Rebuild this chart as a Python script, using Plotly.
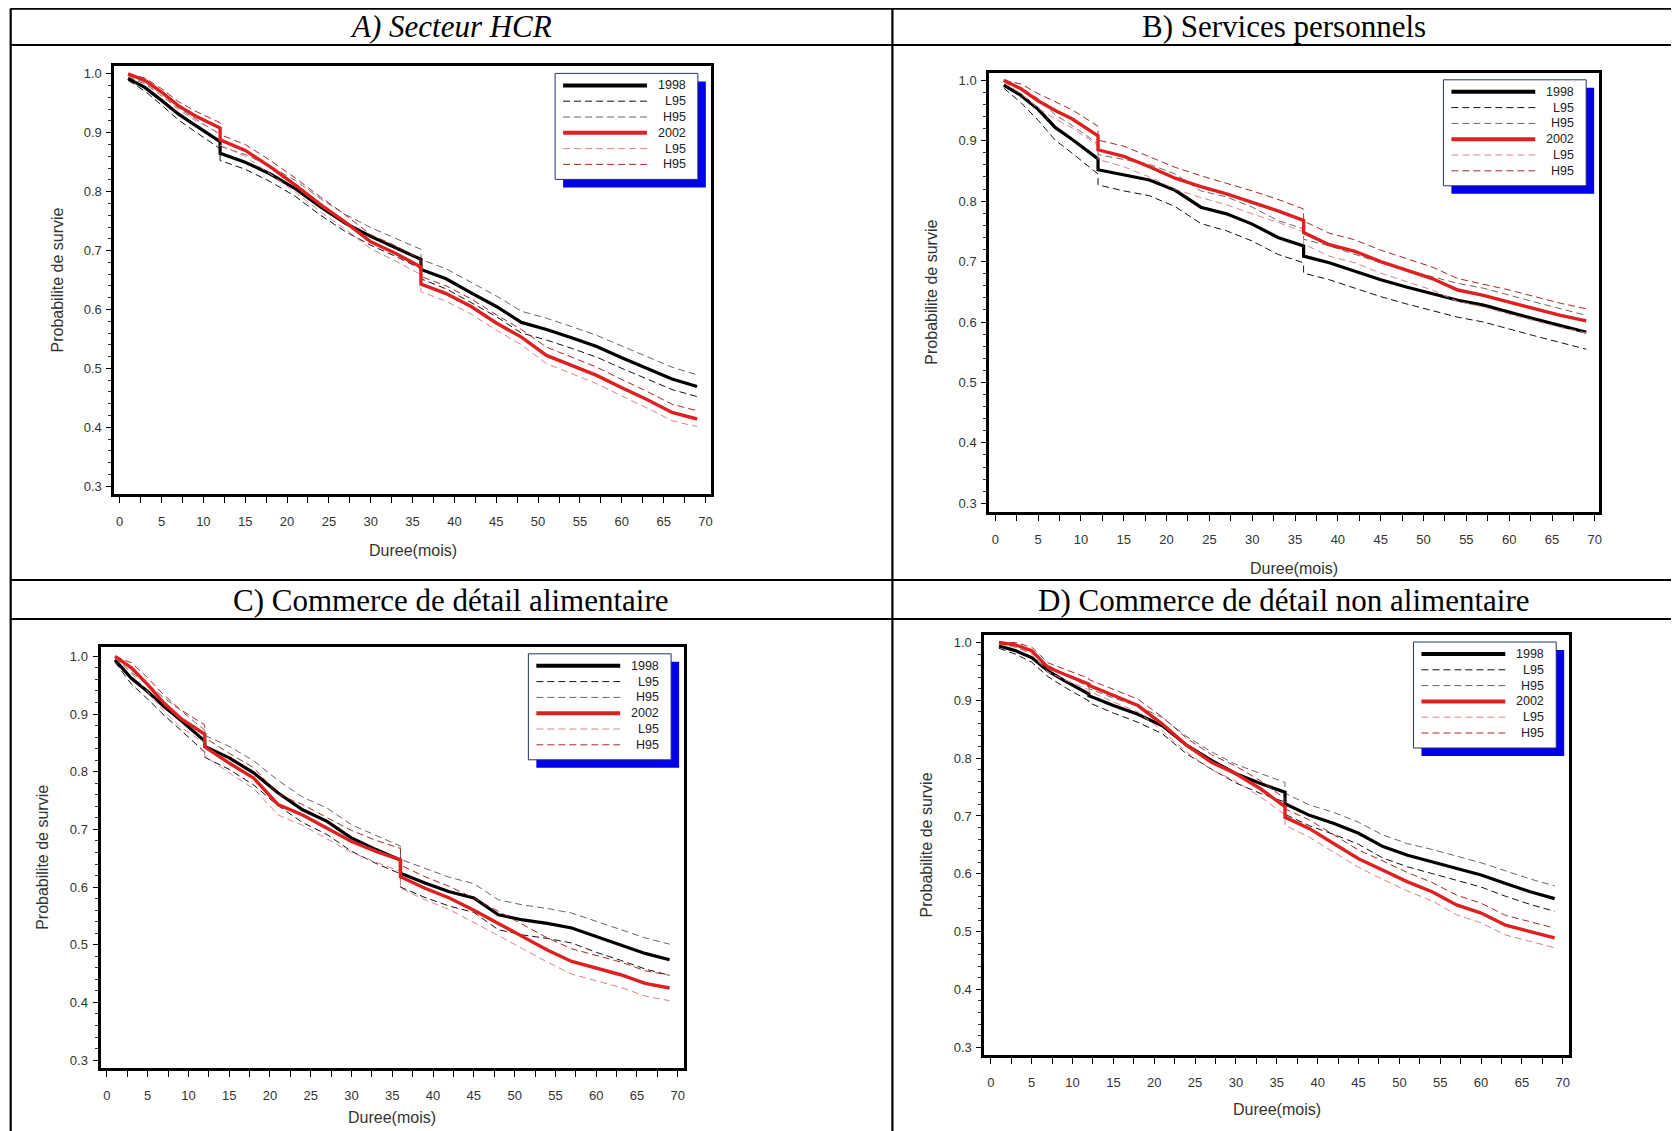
import plotly.graph_objects as go

W, H = 1679, 1131          # page size
OFF = 8                     # default body margin of the html page
FW, FH = W - OFF, H - OFF   # figure size

# ---------------- data ----------------
months = [1, 3, 5, 7, 9, 12, 12, 15, 18, 21, 24, 27, 30, 33, 36, 36, 39, 42, 45, 48, 51, 54, 57, 60, 63, 66, 69]

x_tick_vals = list(range(0, 71, 5))
y_tick_vals = [0.3, 0.4, 0.5, 0.6, 0.7, 0.8, 0.9, 1.0]
y_tick_text = ["0.3", "0.4", "0.5", "0.6", "0.7", "0.8", "0.9", "1.0"]

panel_titles = ["A) Secteur HCR", "B) Services personnels",
                "C) Commerce de détail alimentaire", "D) Commerce de détail non alimentaire"]
legend_labels = ["1998", "L95", "H95", "2002", "L95", "H95"]
x_title = "Duree(mois)"
y_title = "Probabilite de survie"

# Panel A
a_1998 = [0.992, 0.977, 0.955, 0.932, 0.913, 0.885, 0.865, 0.850, 0.830, 0.805, 0.774, 0.746, 0.724, 0.705,
          0.685, 0.668, 0.652, 0.628, 0.605, 0.578, 0.566, 0.552, 0.537, 0.518, 0.500, 0.482, 0.469]
a_1998_l95 = [0.989, 0.971, 0.947, 0.922, 0.902, 0.873, 0.853, 0.838, 0.817, 0.792, 0.760, 0.732, 0.709, 0.690,
              0.669, 0.652, 0.635, 0.611, 0.588, 0.560, 0.548, 0.534, 0.519, 0.500, 0.482, 0.464, 0.452]
a_1998_h95 = [0.995, 0.983, 0.963, 0.942, 0.924, 0.897, 0.877, 0.863, 0.843, 0.819, 0.788, 0.761, 0.739, 0.721,
              0.702, 0.685, 0.669, 0.646, 0.623, 0.597, 0.585, 0.571, 0.556, 0.538, 0.520, 0.502, 0.489]
a_2002 = [1.000, 0.989, 0.969, 0.946, 0.929, 0.908, 0.888, 0.870, 0.842, 0.811, 0.778, 0.748, 0.715, 0.695,
          0.672, 0.643, 0.627, 0.605, 0.577, 0.553, 0.522, 0.505, 0.488, 0.467, 0.447, 0.425, 0.414]
a_2002_l95 = [0.997, 0.985, 0.963, 0.939, 0.921, 0.899, 0.879, 0.860, 0.830, 0.799, 0.766, 0.736, 0.703, 0.682,
              0.659, 0.630, 0.614, 0.592, 0.565, 0.540, 0.508, 0.491, 0.474, 0.453, 0.433, 0.411, 0.401]
a_2002_h95 = [1.000, 0.993, 0.975, 0.953, 0.937, 0.917, 0.897, 0.880, 0.853, 0.823, 0.791, 0.760, 0.727, 0.708,
              0.685, 0.656, 0.640, 0.618, 0.591, 0.566, 0.536, 0.519, 0.502, 0.481, 0.461, 0.439, 0.428]

# Panel B
b_1998 = [0.992, 0.975, 0.952, 0.922, 0.902, 0.870, 0.852, 0.843, 0.835, 0.818, 0.790, 0.779, 0.762, 0.740,
          0.726, 0.709, 0.698, 0.684, 0.670, 0.658, 0.647, 0.636, 0.628, 0.616, 0.605, 0.594, 0.583]
b_1998_l95 = [0.987, 0.963, 0.934, 0.901, 0.879, 0.845, 0.827, 0.817, 0.809, 0.791, 0.763, 0.751, 0.734, 0.712,
              0.698, 0.681, 0.670, 0.656, 0.642, 0.630, 0.619, 0.608, 0.600, 0.588, 0.577, 0.566, 0.555]
b_1998_h95 = [0.997, 0.987, 0.970, 0.943, 0.925, 0.895, 0.877, 0.869, 0.861, 0.845, 0.817, 0.807, 0.790, 0.768,
              0.754, 0.737, 0.726, 0.712, 0.698, 0.686, 0.675, 0.664, 0.656, 0.644, 0.633, 0.622, 0.611]
b_2002 = [1.000, 0.986, 0.966, 0.950, 0.936, 0.908, 0.885, 0.874, 0.857, 0.838, 0.824, 0.812, 0.798, 0.784,
          0.768, 0.748, 0.728, 0.717, 0.700, 0.686, 0.672, 0.653, 0.644, 0.633, 0.622, 0.611, 0.602]
b_2002_l95 = [0.997, 0.978, 0.954, 0.936, 0.921, 0.892, 0.869, 0.857, 0.840, 0.820, 0.806, 0.794, 0.779, 0.765,
              0.749, 0.729, 0.709, 0.698, 0.681, 0.667, 0.653, 0.634, 0.625, 0.613, 0.602, 0.591, 0.582]
b_2002_h95 = [1.000, 0.994, 0.978, 0.964, 0.951, 0.924, 0.901, 0.891, 0.874, 0.856, 0.842, 0.830, 0.817, 0.803,
              0.787, 0.767, 0.747, 0.736, 0.719, 0.705, 0.691, 0.672, 0.663, 0.653, 0.642, 0.631, 0.622]

# Panel C
c_1998 = [0.994, 0.962, 0.939, 0.913, 0.890, 0.853, 0.844, 0.824, 0.798, 0.763, 0.734, 0.714, 0.685, 0.665,
          0.647, 0.624, 0.607, 0.592, 0.581, 0.552, 0.543, 0.537, 0.529, 0.514, 0.500, 0.485, 0.474]
c_1998_l95 = [0.990, 0.952, 0.926, 0.898, 0.873, 0.834, 0.825, 0.804, 0.777, 0.741, 0.712, 0.691, 0.662, 0.641,
              0.623, 0.600, 0.582, 0.567, 0.556, 0.526, 0.517, 0.511, 0.503, 0.487, 0.473, 0.458, 0.447]
c_1998_h95 = [0.998, 0.972, 0.952, 0.928, 0.907, 0.872, 0.863, 0.844, 0.819, 0.785, 0.756, 0.737, 0.708, 0.689,
              0.671, 0.648, 0.632, 0.617, 0.606, 0.578, 0.569, 0.563, 0.555, 0.541, 0.527, 0.512, 0.501]
c_2002 = [1.000, 0.980, 0.951, 0.919, 0.893, 0.865, 0.843, 0.815, 0.789, 0.743, 0.725, 0.702, 0.679, 0.662,
          0.647, 0.618, 0.598, 0.581, 0.560, 0.537, 0.514, 0.491, 0.471, 0.459, 0.448, 0.433, 0.425]
c_2002_l95 = [0.997, 0.971, 0.939, 0.905, 0.878, 0.849, 0.827, 0.798, 0.771, 0.725, 0.707, 0.683, 0.660, 0.643,
              0.627, 0.598, 0.578, 0.561, 0.539, 0.516, 0.493, 0.470, 0.449, 0.437, 0.426, 0.411, 0.403]
c_2002_h95 = [1.000, 0.989, 0.963, 0.933, 0.908, 0.881, 0.859, 0.832, 0.807, 0.761, 0.743, 0.721, 0.698, 0.681,
              0.667, 0.638, 0.618, 0.601, 0.581, 0.558, 0.535, 0.512, 0.493, 0.481, 0.470, 0.455, 0.447]

# Panel D
d_1998 = [0.994, 0.986, 0.974, 0.951, 0.934, 0.911, 0.908, 0.891, 0.876, 0.856, 0.822, 0.796, 0.773, 0.756,
          0.741, 0.721, 0.701, 0.687, 0.670, 0.647, 0.632, 0.621, 0.609, 0.598, 0.583, 0.569, 0.557]
d_1998_l95 = [0.990, 0.980, 0.966, 0.941, 0.923, 0.899, 0.896, 0.878, 0.862, 0.842, 0.807, 0.781, 0.757, 0.739,
              0.724, 0.703, 0.683, 0.668, 0.651, 0.627, 0.612, 0.600, 0.588, 0.577, 0.561, 0.547, 0.535]
d_1998_h95 = [0.998, 0.992, 0.982, 0.961, 0.945, 0.923, 0.920, 0.904, 0.890, 0.870, 0.837, 0.811, 0.789, 0.773,
              0.758, 0.739, 0.719, 0.706, 0.689, 0.667, 0.652, 0.642, 0.630, 0.619, 0.605, 0.591, 0.579]
d_2002 = [1.000, 0.996, 0.986, 0.957, 0.945, 0.928, 0.926, 0.908, 0.891, 0.859, 0.822, 0.793, 0.773, 0.747,
          0.716, 0.698, 0.678, 0.652, 0.626, 0.606, 0.586, 0.569, 0.546, 0.532, 0.511, 0.500, 0.489]
d_2002_l95 = [0.998, 0.992, 0.980, 0.949, 0.936, 0.918, 0.916, 0.897, 0.880, 0.847, 0.810, 0.780, 0.760, 0.733,
              0.702, 0.684, 0.663, 0.637, 0.611, 0.590, 0.570, 0.553, 0.529, 0.515, 0.494, 0.483, 0.472]
d_2002_h95 = [1.000, 1.000, 0.992, 0.965, 0.954, 0.938, 0.936, 0.919, 0.902, 0.871, 0.834, 0.806, 0.786, 0.761,
              0.730, 0.712, 0.693, 0.667, 0.641, 0.622, 0.602, 0.585, 0.563, 0.549, 0.528, 0.517, 0.506]

panel_series = [
    [a_1998_l95, a_1998_h95, a_1998, a_2002_l95, a_2002_h95, a_2002],
    [b_1998_l95, b_1998_h95, b_1998, b_2002_l95, b_2002_h95, b_2002],
    [c_1998_l95, c_1998_h95, c_1998, c_2002_l95, c_2002_h95, c_2002],
    [d_1998_l95, d_1998_h95, d_1998, d_2002_l95, d_2002_h95, d_2002],
]

# ---------------- styles / layout (page pixels) ----------------
RED = "#de2020"
styles = [  # order matches panel_series
    dict(color="#111111", width=1, dash="7px,4px"),   # 1998 L95
    dict(color="#666666", width=1, dash="7px,4px"),   # 1998 H95
    dict(color="#000000", width=3.2, dash="solid"),   # 1998
    dict(color="#d98585", width=1, dash="7px,4px"),   # 2002 L95
    dict(color="#a82828", width=1, dash="7px,4px"),   # 2002 H95
    dict(color=RED, width=3.4, dash="solid"),         # 2002
]
legend_styles = [styles[2], styles[0], styles[1], styles[5], styles[3], styles[4]]

frames = [(114.6, 712.1, 66.4, 493.6), (991, 1602, 72.8, 511.8),
          (100.7, 685.3, 646.8, 1067.6), (986.2, 1572, 635, 1054.7)]
xranges = [[-0.63, 70.64], [-0.7, 70.5], [-0.78, 70.78], [-0.78, 70.78]]
yranges = [[0.2873, 1.0127], [0.286, 1.0124], [0.287, 1.0166], [0.287, 1.013]]
xtitle_gap = [57, 57, 50, 55]
header_y = [27, 27, 600, 600]
header_x = [452, 1286, 452, 1286]
header_italic = [True, False, False, False]


def px(x):
    return (x - OFF) / FW


def py(y):
    return 1 - (y - OFF) / FH


fig = go.Figure()
SANS = "Liberation Sans, Arial, sans-serif"
SERIF = "Liberation Serif, Times New Roman, serif"

shapes = []
annotations = []
layout_axes = {}


def ann(text, x, y, size, family, color, xanchor="center", yanchor="middle", angle=0):
    return dict(text=text, x=px(x), y=py(y), xref="paper", yref="paper", xanchor=xanchor,
                yanchor=yanchor, showarrow=False, textangle=angle,
                font=dict(family=family, size=size, color=color))


for i, (series, fr) in enumerate(zip(panel_series, frames)):
    k = i + 1
    xa = "x" if k == 1 else f"x{k}"
    ya = "y" if k == 1 else f"y{k}"
    for s, st in zip(series, styles):
        fig.add_trace(go.Scatter(x=months, y=s, mode="lines", line=st, xaxis=xa, yaxis=ya,
                                 showlegend=False, hoverinfo="skip"))
    L, R, T, B = fr
    layout_axes["xaxis" if k == 1 else f"xaxis{k}"] = dict(
        domain=[px(L), px(R)], anchor=ya, range=xranges[i], showgrid=False, zeroline=False,
        showline=True, mirror=True, linewidth=3, linecolor="black",
        tickmode="array", tickvals=x_tick_vals, ticks="outside", ticklen=6, tickwidth=1, tickcolor="black",
        ticklabelstandoff=8,
        minor=dict(dtick=2.5, tick0=0, ticks="outside", ticklen=6, tickwidth=1, tickcolor="black"),
        tickfont=dict(family=SANS, size=13, color="#333333"),
    )
    layout_axes["yaxis" if k == 1 else f"yaxis{k}"] = dict(
        domain=[py(B), py(T)], anchor=xa, range=yranges[i], showgrid=False, zeroline=False,
        showline=True, mirror=True, linewidth=3, linecolor="black",
        tickmode="array", tickvals=y_tick_vals, ticktext=y_tick_text, ticks="outside", ticklen=5,
        tickwidth=1, tickcolor="black", ticklabelstandoff=2,
        minor=dict(dtick=0.02, tick0=0.3, ticks="outside", ticklen=3, tickwidth=1, tickcolor="#333333"),
        tickfont=dict(family=SANS, size=13, color="#333333"),
    )
    # axis titles
    annotations.append(ann(x_title, (L + R) / 2, B + xtitle_gap[i], 16, SANS, "#333333"))
    annotations.append(ann(y_title, L - 58, (T + B) / 2, 16, SANS, "#333333", angle=-90))
    # header
    txt = f"<i>{panel_titles[i]}</i>" if header_italic[i] else panel_titles[i]
    annotations.append(ann(txt, header_x[i], header_y[i], 31, SERIF, "black"))
    # custom legend box
    bw, bh = 143, 106
    bR = R - 13
    bL = bR - bw
    bT = T + 7
    bB = bT + bh
    off = 8
    shapes.append(dict(type="rect", xref="paper", yref="paper", x0=px(bL + off), x1=px(bR + off),
                       y0=py(bB + off), y1=py(bT + off), fillcolor="#0000ee", line=dict(width=0)))
    shapes.append(dict(type="rect", xref="paper", yref="paper", x0=px(bL), x1=px(bR),
                       y0=py(bB), y1=py(bT), fillcolor="white", line=dict(color="#223366", width=1)))
    for j, (lab, st) in enumerate(zip(legend_labels, legend_styles)):
        yy = bT + 12 + j * 15.8
        shapes.append(dict(type="line", xref="paper", yref="paper", x0=px(bL + 8), x1=px(bL + 92),
                           y0=py(yy), y1=py(yy),
                           line=dict(color=st["color"], width=(4 if st["dash"] == "solid" else 1),
                                     dash=st["dash"])))
        annotations.append(ann(lab, bR - 10, yy, 12.5, SANS, "#222222", xanchor="right"))

# table lines (page px)
TL = 10.7
DIV = 894
table_lines = [
    (TL, 8.6, W, 8.6), (TL, 45, W, 45), (TL, 580, W, 580), (TL, 619, W, 619),
    (TL, 8.6, TL, H), (DIV, 8.6, DIV, H),
]
for x0, y0, x1, y1 in table_lines:
    shapes.append(dict(type="line", xref="paper", yref="paper", x0=px(x0), x1=px(x1), y0=py(y0), y1=py(y1),
                       line=dict(color="black", width=2.2), layer="below"))

fig.update_layout(
    width=FW, height=FH, margin=dict(l=0, r=0, t=0, b=0),
    paper_bgcolor="white", plot_bgcolor="white", showlegend=False,
    shapes=shapes, annotations=annotations, **layout_axes,
)

fig.write_html("out.html")
